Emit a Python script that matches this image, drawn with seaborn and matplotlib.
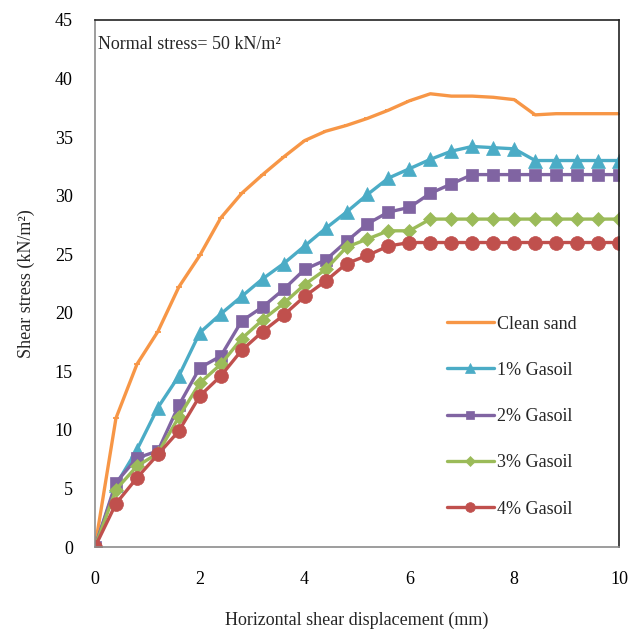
import matplotlib
matplotlib.use("Agg")
import matplotlib.pyplot as plt
import seaborn as sns
import pandas as pd
import numpy as np

# ---- data ----
displacement = [0.0, 0.4, 0.8, 1.2, 1.6, 2.0, 2.4, 2.8, 3.2, 3.6, 4.0, 4.4, 4.8,
                5.2, 5.6, 6.0, 6.4, 6.8, 7.2, 7.6, 8.0, 8.4, 8.8, 9.2, 9.6, 10.0]
clean_sand = [0, 11.0, 15.6, 18.4, 22.2, 24.9, 28.1, 30.2, 31.8, 33.3, 34.7, 35.5, 36.0,
              36.6, 37.3, 38.1, 38.7, 38.5, 38.5, 38.4, 38.2, 36.9, 37.0, 37.0, 37.0, 37.0]
gasoil_1 = [0, 5.3, 8.3, 11.9, 14.6, 18.3, 19.9, 21.4, 22.9, 24.2, 25.7, 27.2, 28.6,
            30.1, 31.5, 32.3, 33.1, 33.8, 34.2, 34.1, 34.0, 33.0, 33.0, 33.0, 33.0, 33.0]
gasoil_2 = [0, 5.5, 7.6, 8.2, 12.1, 15.3, 16.3, 19.3, 20.5, 22.0, 23.7, 24.5, 26.1,
            27.6, 28.6, 29.0, 30.2, 31.0, 31.8, 31.8, 31.8, 31.8, 31.8, 31.8, 31.8, 31.8]
gasoil_3 = [0, 4.9, 6.9, 8.0, 11.1, 14.0, 15.6, 17.8, 19.4, 20.8, 22.4, 23.7, 25.6,
            26.3, 27.0, 27.0, 28.0, 28.0, 28.0, 28.0, 28.0, 28.0, 28.0, 28.0, 28.0, 28.0]
gasoil_4 = [0, 3.7, 5.9, 7.9, 9.9, 12.9, 14.6, 16.8, 18.4, 19.8, 21.4, 22.7, 24.2,
            24.9, 25.7, 26.0, 26.0, 26.0, 26.0, 26.0, 26.0, 26.0, 26.0, 26.0, 26.0, 26.0]
series_names = ["Clean sand", "1% Gasoil", "2% Gasoil", "3% Gasoil", "4% Gasoil"]
x_ticks = [0, 2, 4, 6, 8, 10]
y_ticks = [0, 5, 10, 15, 20, 25, 30, 35, 40, 45]

series_values = [clean_sand, gasoil_1, gasoil_2, gasoil_3, gasoil_4]
df = pd.concat([
    pd.DataFrame({"x": displacement, "y": vals, "series": name})
    for name, vals in zip(series_names, series_values)
], ignore_index=True)

sns.set_style("white")
plt.rcParams["font.family"] = ["Liberation Serif", "DejaVu Serif"]

colors = {"Clean sand": "#F79646", "1% Gasoil": "#4BACC6", "2% Gasoil": "#8064A2",
          "3% Gasoil": "#9BBB59", "4% Gasoil": "#C0504D"}
markers = {"Clean sand": "_", "1% Gasoil": "^", "2% Gasoil": "s",
           "3% Gasoil": "D", "4% Gasoil": "o"}
msizes = {"Clean sand": 5, "1% Gasoil": 10, "2% Gasoil": 9, "3% Gasoil": 7, "4% Gasoil": 10}

fig = plt.figure(figsize=(6.41, 6.34), dpi=100)
ax = fig.add_axes([95 / 641, 1 - 547 / 634, (619 - 95) / 641, (547 - 20) / 634])

for name in series_names:
    sub = df[df["series"] == name]
    sns.lineplot(data=sub, x="x", y="y", ax=ax, color=colors[name], lw=2.4,
                 marker=markers[name], markersize=msizes[name],
                 markeredgecolor=colors[name], markeredgewidth=1.3 if name == "Clean sand" else 0.5,
                 label=name, sort=False, estimator=None)

ax.set_xlim(0, 10)
ax.set_ylim(0, 45)
ax.set_xticks(x_ticks)
ax.set_yticks(y_ticks)
ax.tick_params(direction="in", length=5, width=1, colors="#555555", labelsize=13,
               labelcolor="black")
ax.tick_params(axis="x", pad=17)
ax.tick_params(axis="y", pad=16)
for side in ["left", "bottom"]:
    ax.spines[side].set_color("#8c8c8c")
    ax.spines[side].set_linewidth(1.2)
for side in ["top", "right"]:
    ax.spines[side].set_color("#222222")
    ax.spines[side].set_linewidth(1.2)
for lab in ax.get_xticklabels() + ax.get_yticklabels():
    lab.set_clip_on(False)

ax.set_xlabel("Horizontal shear displacement (mm)", fontsize=13, labelpad=17)
ax.set_ylabel("Shear stress (kN/m²)", fontsize=13, labelpad=14)
ax.text(0.005, 0.97, "Normal stress= 50 kN/m²", transform=ax.transAxes,
        fontsize=13, va="top", ha="left")

leg = ax.legend(loc="upper left", bbox_to_anchor=(0.64, 0.47), frameon=False,
                fontsize=13, handlelength=2.6, labelspacing=1.62, handletextpad=0.2,
                markerscale=0.7)

fig.savefig("out.png", dpi=100)
